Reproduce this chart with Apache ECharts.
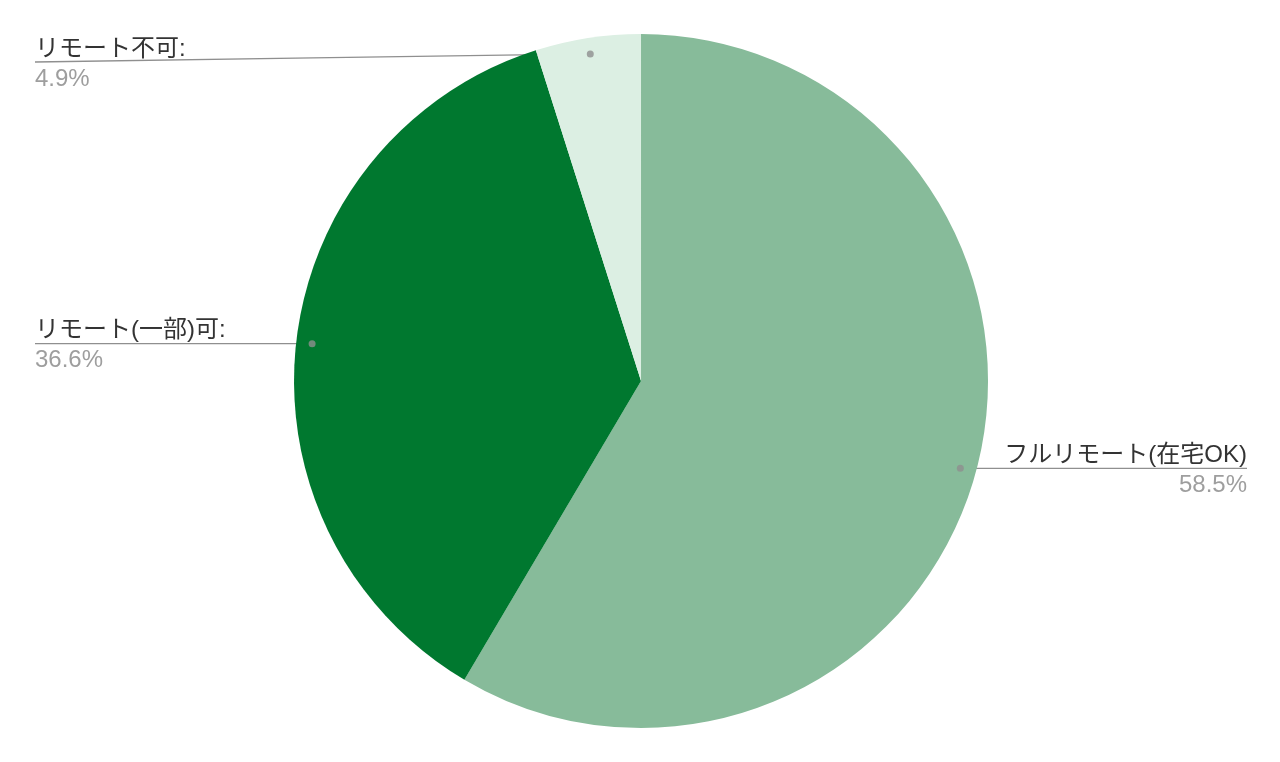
<!DOCTYPE html>
<html>
<head>
<meta charset="utf-8">
<script src="https://cdn.jsdelivr.net/npm/echarts@6/dist/echarts.min.js"></script>
<style>html,body{margin:0;padding:0;background:#fff}#c{width:1280px;height:762px}</style>
</head>
<body>
<div id="c"></div>
<script>
const categories = ['フルリモート(在宅OK)', 'リモート(一部)可', 'リモート不可'];
const labelNames = ['フルリモート(在宅OK)', 'リモート(一部)可:', 'リモート不可:'];
const values = [58.5, 36.6, 4.9];
const colors = ['#87bb9a', '#00782f', '#dcefe3'];

const chart = echarts.init(document.getElementById('c'), null, {renderer: 'canvas'});
const CX = 0.5008, CY = 0.5, R = 347, K = 0.954;

// mid angles (percent of circle) for the label anchor dots
const total = values.reduce((a, b) => a + b, 0);
let acc = 0;
const dots = values.map(v => { const m = (acc + v / 2) / total * 100; acc += v; return [K, m]; });

const font = "'Liberation Sans', 'Noto Sans CJK JP', sans-serif";

chart.setOption({
  backgroundColor: '#fff',
  animation: false,
  polar: { center: [(CX * 100) + '%', (CY * 100) + '%'], radius: R },
  angleAxis: { type: 'value', min: 0, max: 100, startAngle: 90, clockwise: true, show: false },
  radiusAxis: { type: 'value', min: 0, max: 1, show: false },
  series: [
    {
      type: 'pie',
      center: [(CX * 100) + '%', (CY * 100) + '%'],
      radius: R,
      startAngle: 90,
      clockwise: true,
      avoidLabelOverlap: false,
      silent: true,
      itemStyle: { borderWidth: 0 },
      data: categories.map((c, i) => ({ name: c, value: values[i], itemStyle: { color: colors[i] } })),
      label: {
        show: true,
        position: 'outside',
        fontFamily: font,
        formatter: p => '{n|' + labelNames[p.dataIndex] + '}\n{v|' + values[p.dataIndex].toFixed(1) + '%}',
        rich: {
          n: { fontSize: 24, color: '#333333', lineHeight: 32, fontFamily: font },
          v: { fontSize: 24, color: '#9e9e9e', lineHeight: 28, fontFamily: font }
        }
      },
      labelLine: { show: true, lineStyle: { color: '#8f8f8f', width: 1.3 } },
      labelLayout: function (p) {
        const W = chart.getWidth(), H = chart.getHeight();
        const cx = W * CX, cy = H * CY;
        const e = p.labelLinePoints[0];
        const dx = cx + (e[0] - cx) * K, dy = cy + (e[1] - cy) * K;
        const right = dx > cx;
        const ly = Math.max(dy, 62);
        const ex = right ? W - 33 : 35;
        return {
          x: ex, y: ly + 1, align: right ? 'right' : 'left', verticalAlign: 'middle',
          labelLinePoints: [[dx, dy], [(dx + ex) / 2, (dy + ly) / 2], [ex, ly]]
        };
      }
    },
    {
      type: 'scatter',
      coordinateSystem: 'polar',
      symbol: 'circle',
      symbolSize: 7,
      silent: true,
      z: 5,
      itemStyle: { color: '#8f8f8f' },
      data: dots
    }
  ]
});
</script>
</body>
</html>
